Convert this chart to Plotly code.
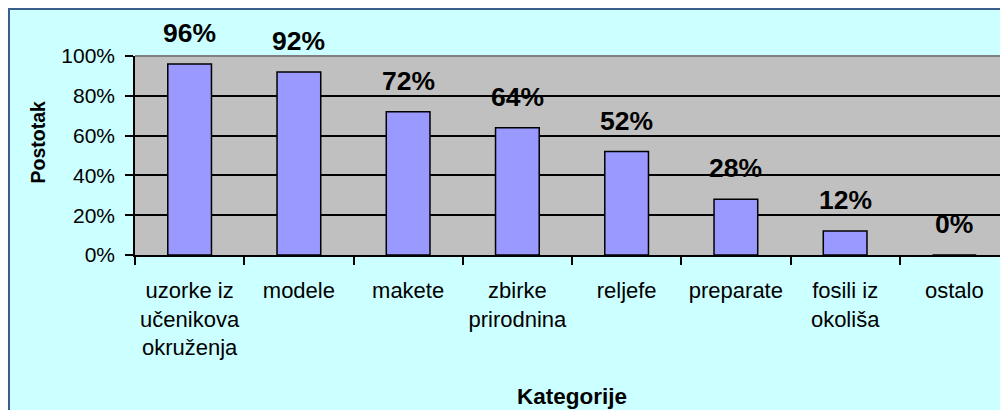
import plotly.graph_objects as go

categories = ["uzorke iz<br>učenikova<br>okruženja", "modele", "makete", "zbirke<br>prirodnina",
              "reljefe", "preparate", "fosili iz<br>okoliša", "ostalo"]
values = [0.96, 0.92, 0.72, 0.64, 0.52, 0.28, 0.12, 0.0]
value_labels = ["96%", "92%", "72%", "64%", "52%", "28%", "12%", "0%"]

W, H = 1008, 410
ML, MR, MT, MB = 127, 7, 48, 163
PW = W - ML - MR
PH = H - MT - MB

def px_x(p):
    return (p - ML) / PW

def px_y(p):
    return (H - MB - p) / PH

FONT = "Liberation Sans, Arial, sans-serif"

fig = go.Figure()
fig.add_trace(go.Bar(
    x=categories, y=values, width=0.4,
    marker=dict(color="#9999FF", line=dict(color="black", width=1.5)),
    hoverinfo="skip",
))

for c, v, t in zip(categories, values, value_labels):
    fig.add_annotation(x=c, y=v, text="<b>%s</b>" % t, showarrow=False,
                       yanchor="middle", yshift=31,
                       font=dict(family=FONT, size=26.5, color="black"))

# axis titles
fig.add_annotation(xref="paper", yref="paper", x=0.5, y=0, yshift=-141,
                   text="<b>Kategorije</b>", showarrow=False, yanchor="middle",
                   font=dict(family=FONT, size=22.5, color="black"))
fig.add_annotation(xref="paper", yref="paper", x=0, y=0.5, xshift=-98, yshift=13,
                   text="<b>Postotak</b>", showarrow=False, textangle=-90,
                   xanchor="center", yanchor="middle",
                   font=dict(family=FONT, size=19.5, color="black"))

BORDER = "#3B5E8C"
shapes = [
    # gray top border of plot area
    dict(type="line", xref="paper", yref="paper", x0=0, x1=1, y0=1, y1=1,
         line=dict(color="#808080", width=2), layer="above"),
    # dark blue chart border (top and left edges of the chart)
    dict(type="line", xref="paper", yref="paper", x0=px_x(0), x1=px_x(W + 5),
         y0=px_y(1), y1=px_y(1), line=dict(color=BORDER, width=2), layer="above"),
    dict(type="line", xref="paper", yref="paper", x0=px_x(1), x1=px_x(1),
         y0=px_y(0), y1=px_y(H + 5), line=dict(color=BORDER, width=2), layer="above"),
]

fig.update_layout(
    width=W, height=H,
    margin=dict(l=ML, r=MR, t=MT, b=MB, autoexpand=False),
    paper_bgcolor="#CCFFFF",
    plot_bgcolor="#C0C0C0",
    showlegend=False,
    font=dict(family=FONT, color="black"),
    shapes=shapes,
)

fig.update_xaxes(
    type="category", tickson="boundaries", ticks="outside", ticklen=8,
    tickwidth=1.5, tickcolor="black", showline=True, linecolor="black", linewidth=1.5,
    showgrid=False, tickfont=dict(family=FONT, size=22), ticklabelstandoff=15,
    tickangle=0, automargin=False,
)
fig.update_yaxes(
    range=[0, 1], dtick=0.2, tickformat=".0%", ticks="outside", ticklen=8,
    tickwidth=1.5, tickcolor="black", showline=True, linecolor="black", linewidth=1.5,
    showgrid=True, gridcolor="black", gridwidth=1.5, zeroline=False,
    tickfont=dict(family=FONT, size=21), ticklabelstandoff=6,
    automargin=False,
)

fig.write_html("out.html")
